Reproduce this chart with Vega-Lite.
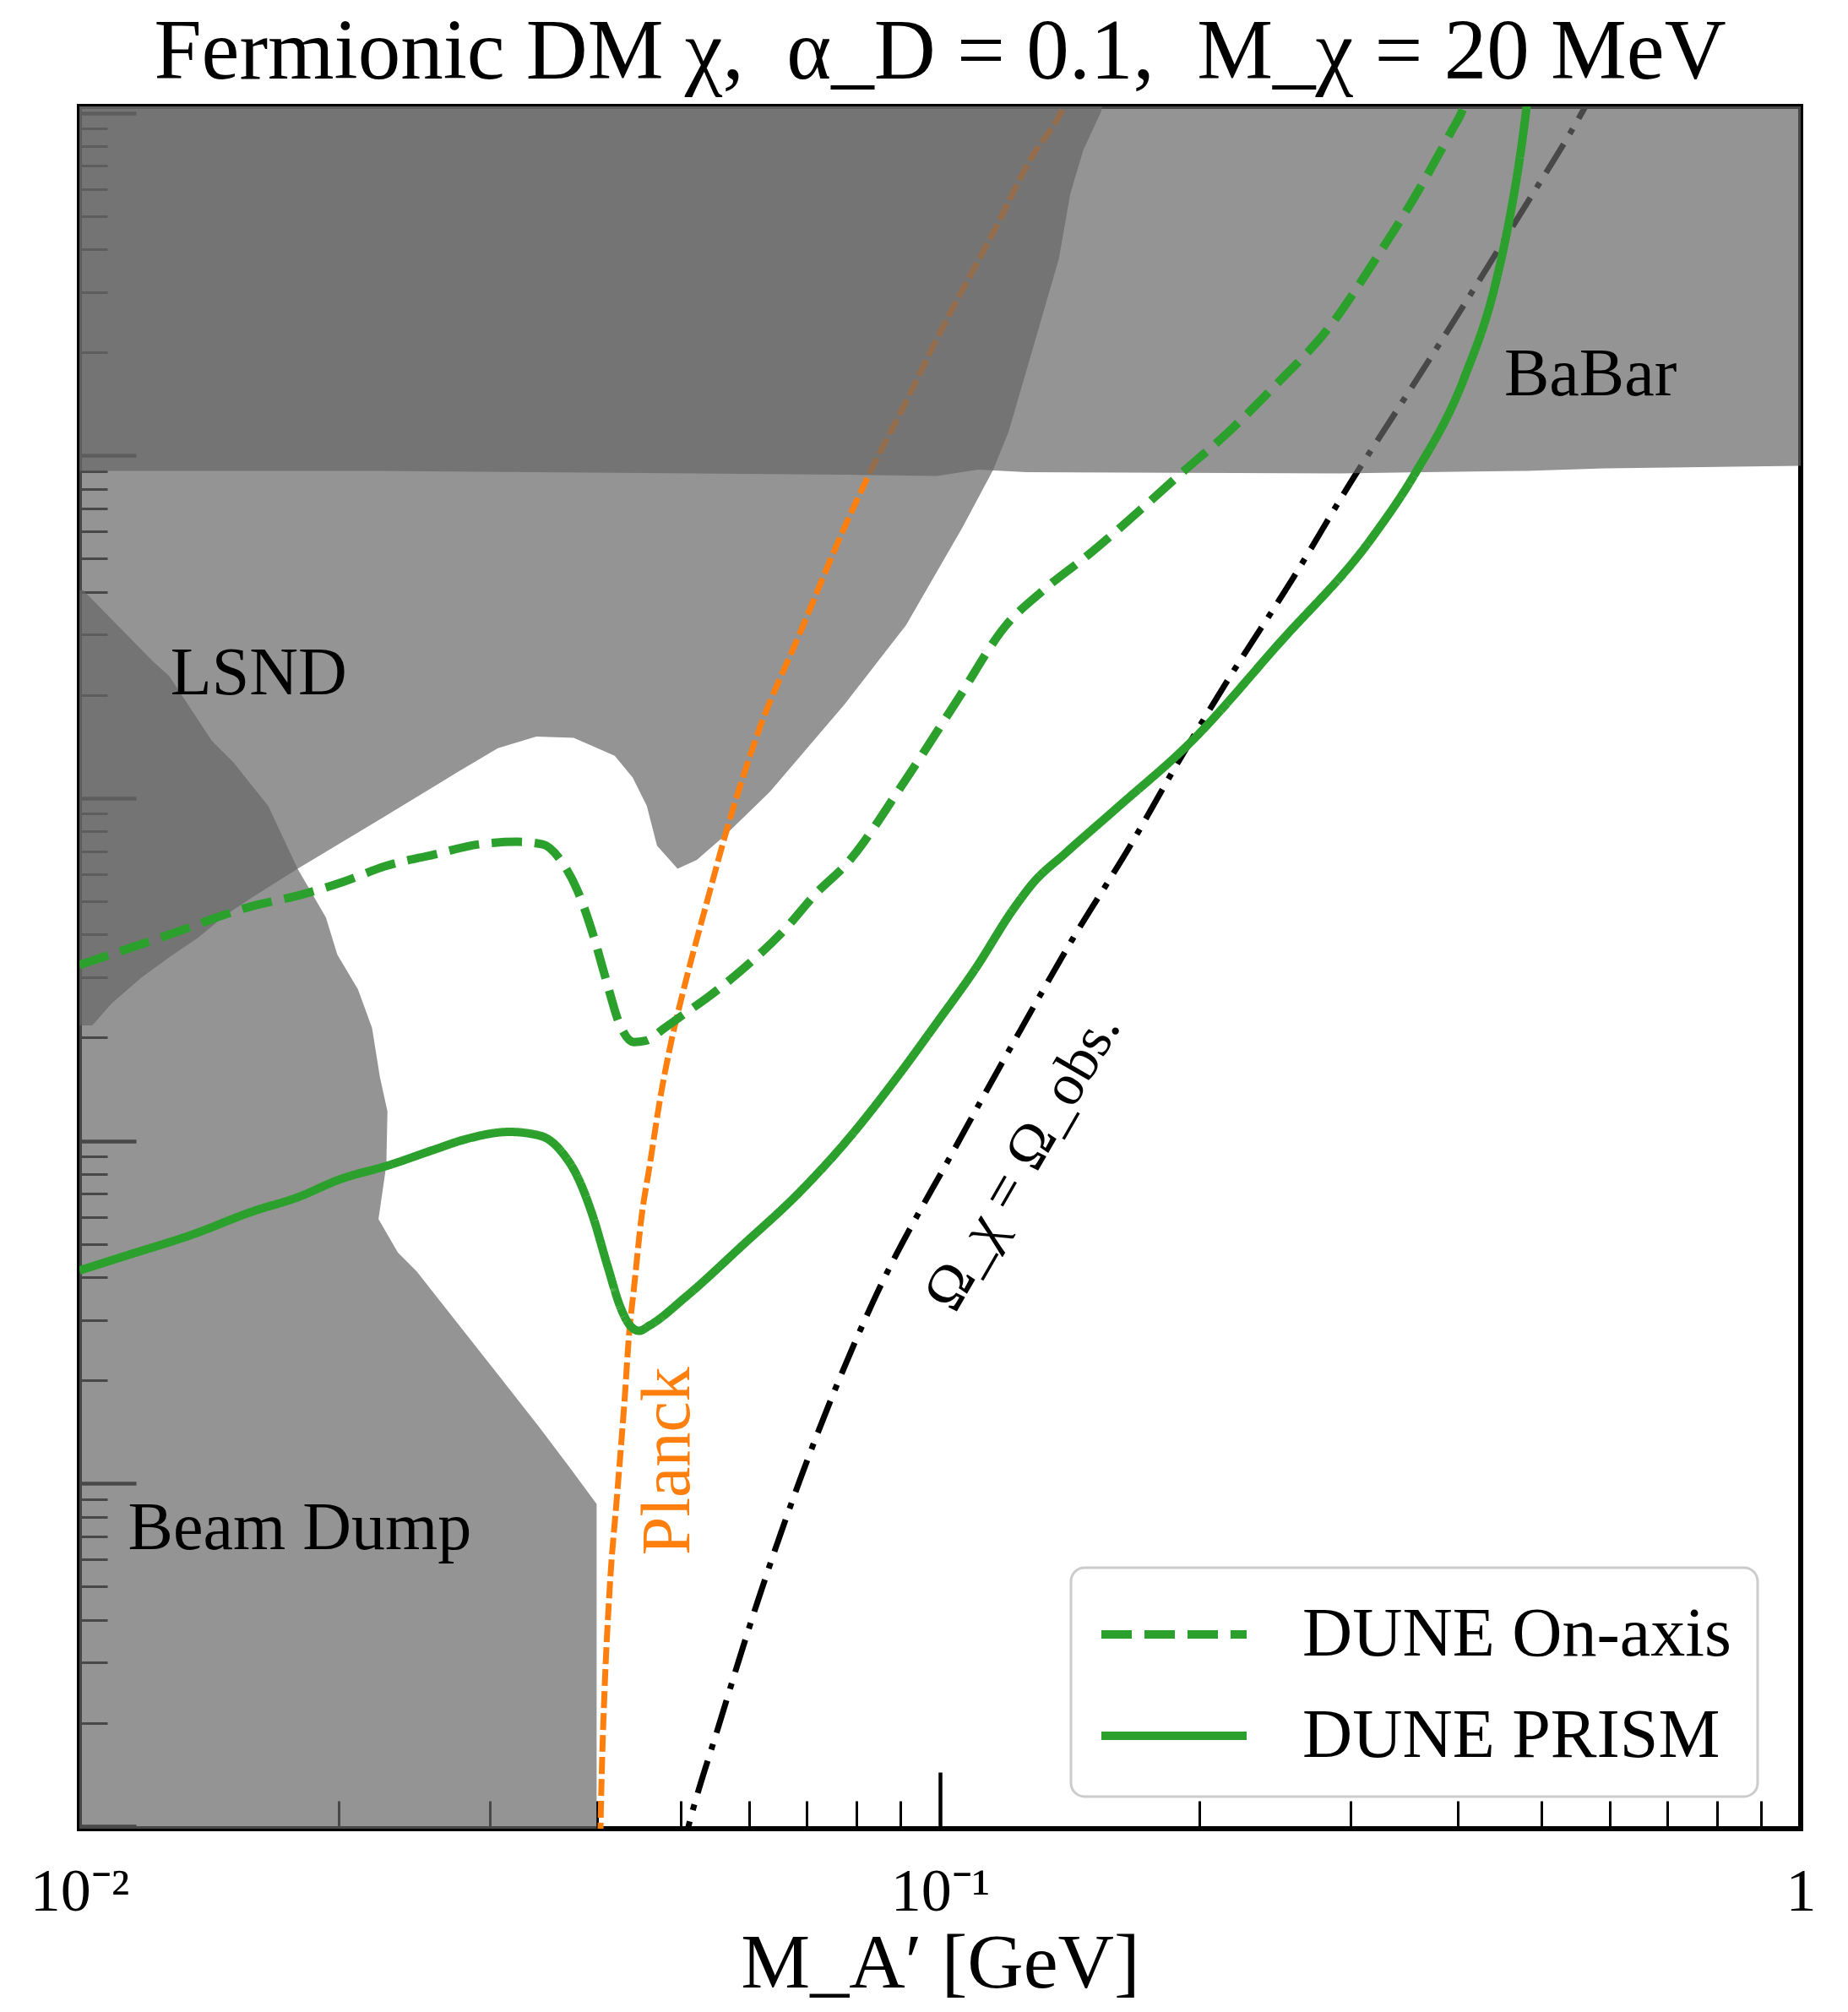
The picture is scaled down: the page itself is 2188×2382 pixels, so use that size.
{
  "$schema": "https://vega.github.io/schema/vega-lite/v6.json",
  "width": 2038,
  "height": 2039,
  "autosize": {"type": "none"},
  "padding": {"left": 94, "top": 126, "right": 56, "bottom": 217},
  "background": "white",
  "title": {
    "text": "Fermionic DM χ,\u00a0 α_D = 0.1,\u00a0 M_χ = 20 MeV",
    "fontSize": 101,
    "font": "Liberation Serif",
    "fontWeight": "normal",
    "baseline": "alphabetic",
    "offset": 33,
    "dy": 101,
    "anchor": "middle",
    "color": "black"
  },
  "config": {
    "font": "Liberation Serif",
    "view": {"stroke": "black", "strokeWidth": 6},
    "axis": {"grid": false, "domain": false, "tickColor": "black"},
    "legend": {"strokeWidth": 3}
  },
  "encoding": {
    "x": {
      "field": "x",
      "type": "quantitative",
      "scale": {"type": "log", "domain": [0.01, 1], "nice": false},
      "axis": {
        "values": [0.01, 0.02, 0.03, 0.04, 0.05, 0.06, 0.07, 0.08, 0.09, 0.1, 0.2, 0.3, 0.4, 0.5, 0.6, 0.7, 0.8, 0.9, 1],
        "tickSize": {"condition": {"test": "abs(log(datum.value)/LN10 - round(log(datum.value)/LN10)) < 0.001", "value": -67}, "value": -33},
        "tickWidth": {"condition": {"test": "abs(log(datum.value)/LN10 - round(log(datum.value)/LN10)) < 0.001", "value": 4.5}, "value": 3},
        "labelExpr": "abs(datum.value-0.01)<1e-6 ? '10⁻²' : abs(datum.value-0.1)<1e-6 ? '10⁻¹' : abs(datum.value-1)<1e-6 ? '1' : ''",
        "labelFontSize": 72,
        "labelColor": "black",
        "labelBaseline": "alphabetic",
        "labelPadding": 163,
        "labelFlush": false,
        "labelOverlap": false,
        "title": "M_A′ [GeV]",
        "titleFontSize": 92,
        "titleFontWeight": "normal",
        "titleColor": "black",
        "titleBaseline": "alphabetic",
        "titleY": 187
      }
    },
    "y": {
      "field": "y",
      "type": "quantitative",
      "scale": {"type": "log", "domain": [9.829e-15, 1.044e-9], "nice": false},
      "axis": {
        "values": [1e-14, 2e-14, 3e-14, 4e-14, 5e-14, 6e-14, 7e-14, 8e-14, 9e-14, 1e-13, 2e-13, 3e-13, 4e-13, 5e-13, 6e-13, 7e-13, 8e-13, 9e-13, 1e-12, 2e-12, 3e-12, 4e-12, 5e-12, 6e-12, 7e-12, 8e-12, 9e-12, 1e-11, 2e-11, 3e-11, 4e-11, 5e-11, 6e-11, 7e-11, 8e-11, 9e-11, 1e-10, 2e-10, 3e-10, 4e-10, 5e-10, 6e-10, 7e-10, 8e-10, 9e-10, 1e-9],
        "tickSize": {"condition": {"test": "abs(log(datum.value)/LN10 - round(log(datum.value)/LN10)) < 0.001", "value": -67}, "value": -33},
        "tickWidth": {"condition": {"test": "abs(log(datum.value)/LN10 - round(log(datum.value)/LN10)) < 0.001", "value": 4.5}, "value": 3},
        "labels": false,
        "title": null
      }
    }
  },
  "layer": [
    {
      "data": {"values": [
        {"i": 1, "x": 0.00927, "y": 4.043e-11},
        {"i": 2, "x": 0.0101, "y": 4.043e-11},
        {"i": 3, "x": 0.01216, "y": 2.516e-11},
        {"i": 4, "x": 0.01272, "y": 2.269e-11},
        {"i": 5, "x": 0.01424, "y": 1.474e-11},
        {"i": 6, "x": 0.0151, "y": 1.273e-11},
        {"i": 7, "x": 0.0159, "y": 1.081e-11},
        {"i": 8, "x": 0.01657, "y": 9.495e-12},
        {"i": 9, "x": 0.01793, "y": 6.223e-12},
        {"i": 10, "x": 0.01934, "y": 4.484e-12},
        {"i": 11, "x": 0.01994, "y": 3.491e-12},
        {"i": 12, "x": 0.02107, "y": 2.766e-12},
        {"i": 13, "x": 0.02188, "y": 2.136e-12},
        {"i": 14, "x": 0.02234, "y": 1.539e-12},
        {"i": 15, "x": 0.0228, "y": 1.219e-12},
        {"i": 16, "x": 0.02273, "y": 8.487e-13},
        {"i": 17, "x": 0.02226, "y": 5.909e-13},
        {"i": 18, "x": 0.02344, "y": 4.723e-13},
        {"i": 19, "x": 0.02467, "y": 4.149e-13},
        {"i": 20, "x": 0.03064, "y": 2.081e-13},
        {"i": 21, "x": 0.0342, "y": 1.462e-13},
        {"i": 22, "x": 0.03726, "y": 1.1e-13},
        {"i": 23, "x": 0.0399, "y": 8.711e-14},
        {"i": 24, "x": 0.0399, "y": 7.267e-15},
        {"i": 25, "x": 0.00927, "y": 7.267e-15}
      ]},
      "mark": {"type": "line", "filled": true, "fill": "#666666", "fillOpacity": 0.7, "strokeWidth": 0, "clip": true},
      "encoding": {"order": {"field": "i", "type": "quantitative"}}
    },
    {
      "data": {"values": [
        {"i": 1, "x": 0.00927, "y": 2.173e-12},
        {"i": 2, "x": 0.01, "y": 2.173e-12},
        {"i": 3, "x": 0.01035, "y": 2.173e-12},
        {"i": 4, "x": 0.0109, "y": 2.516e-12},
        {"i": 5, "x": 0.01179, "y": 2.989e-12},
        {"i": 6, "x": 0.01272, "y": 3.432e-12},
        {"i": 7, "x": 0.01372, "y": 3.906e-12},
        {"i": 8, "x": 0.01479, "y": 4.562e-12},
        {"i": 9, "x": 0.0159, "y": 5.147e-12},
        {"i": 10, "x": 0.01793, "y": 6.223e-12},
        {"i": 11, "x": 0.02241, "y": 8.711e-12},
        {"i": 12, "x": 0.02425, "y": 9.829e-12},
        {"i": 13, "x": 0.02746, "y": 1.188e-11},
        {"i": 14, "x": 0.03064, "y": 1.4e-11},
        {"i": 15, "x": 0.03396, "y": 1.513e-11},
        {"i": 16, "x": 0.03752, "y": 1.5e-11},
        {"i": 17, "x": 0.04188, "y": 1.329e-11},
        {"i": 18, "x": 0.04394, "y": 1.148e-11},
        {"i": 19, "x": 0.04563, "y": 9.495e-12},
        {"i": 20, "x": 0.0469, "y": 7.267e-12},
        {"i": 21, "x": 0.04955, "y": 6.223e-12},
        {"i": 22, "x": 0.05217, "y": 6.61e-12},
        {"i": 23, "x": 0.05626, "y": 7.788e-12},
        {"i": 24, "x": 0.06345, "y": 1.044e-11},
        {"i": 25, "x": 0.07744, "y": 1.877e-11},
        {"i": 26, "x": 0.09133, "y": 3.202e-11},
        {"i": 27, "x": 0.1062, "y": 6.171e-11},
        {"i": 28, "x": 0.1153, "y": 9.096e-11},
        {"i": 29, "x": 0.1202, "y": 1.178e-10},
        {"i": 30, "x": 0.1374, "y": 3.741e-10},
        {"i": 31, "x": 0.1417, "y": 5.807e-10},
        {"i": 32, "x": 0.1467, "y": 7.788e-10},
        {"i": 33, "x": 0.1539, "y": 1.009e-9},
        {"i": 34, "x": 0.1581, "y": 1.388e-9},
        {"i": 35, "x": 0.00927, "y": 1.388e-9}
      ]},
      "mark": {"type": "line", "filled": true, "fill": "#666666", "fillOpacity": 0.7, "strokeWidth": 0, "clip": true},
      "encoding": {"order": {"field": "i", "type": "quantitative"}}
    },
    {
      "data": {"values": [
        {"i": 1, "x": 0.1422, "y": 1.168e-9},
        {"i": 2, "x": 0.1384, "y": 1.009e-9},
        {"i": 3, "x": 0.1274, "y": 7.33e-10},
        {"i": 4, "x": 0.1153, "y": 4.483e-10},
        {"i": 5, "x": 0.09915, "y": 2.192e-10},
        {"i": 6, "x": 0.09133, "y": 1.437e-10},
        {"i": 7, "x": 0.08265, "y": 8.786e-11},
        {"i": 8, "x": 0.07744, "y": 6.171e-11},
        {"i": 9, "x": 0.06867, "y": 3.015e-11},
        {"i": 10, "x": 0.06152, "y": 1.566e-11},
        {"i": 11, "x": 0.05684, "y": 8.487e-12},
        {"i": 12, "x": 0.05344, "y": 4.846e-12},
        {"i": 13, "x": 0.05023, "y": 2.695e-12},
        {"i": 14, "x": 0.0487, "y": 1.942e-12},
        {"i": 15, "x": 0.04738, "y": 1.364e-12},
        {"i": 16, "x": 0.04594, "y": 8.342e-13},
        {"i": 17, "x": 0.045, "y": 6.012e-13},
        {"i": 18, "x": 0.04409, "y": 3.709e-13},
        {"i": 19, "x": 0.04349, "y": 2.673e-13},
        {"i": 20, "x": 0.04305, "y": 1.829e-13},
        {"i": 21, "x": 0.04217, "y": 9.415e-14},
        {"i": 22, "x": 0.0413, "y": 4.846e-14},
        {"i": 23, "x": 0.04074, "y": 2.43e-14},
        {"i": 24, "x": 0.04046, "y": 1.449e-14},
        {"i": 25, "x": 0.04032, "y": 9.829e-15},
        {"i": 26, "x": 0.04025, "y": 7e-15}
      ]},
      "mark": {"type": "line", "color": "#ff7f0e", "strokeWidth": 7, "strokeDash": [20, 6], "interpolate": "monotone", "clip": true},
      "encoding": {"order": {"field": "i", "type": "quantitative"}}
    },
    {
      "data": {"values": [
        {"i": 1, "x": 0.05007, "y": 8.27e-15},
        {"i": 2, "x": 0.05093, "y": 9.829e-15},
        {"i": 3, "x": 0.0553, "y": 1.959e-14},
        {"i": 4, "x": 0.06131, "y": 4.484e-14},
        {"i": 5, "x": 0.06867, "y": 1.017e-13},
        {"i": 6, "x": 0.08351, "y": 3.372e-13},
        {"i": 7, "x": 0.1044, "y": 9.66e-13},
        {"i": 8, "x": 0.1218, "y": 1.942e-12},
        {"i": 9, "x": 0.1422, "y": 3.839e-12},
        {"i": 10, "x": 0.166, "y": 7.205e-12},
        {"i": 11, "x": 0.1898, "y": 1.295e-11},
        {"i": 12, "x": 0.2169, "y": 2.25e-11},
        {"i": 13, "x": 0.2558, "y": 4.295e-11},
        {"i": 14, "x": 0.3038, "y": 8.786e-11},
        {"i": 15, "x": 0.3334, "y": 1.262e-10},
        {"i": 16, "x": 0.3998, "y": 2.582e-10},
        {"i": 17, "x": 0.4731, "y": 5.104e-10},
        {"i": 18, "x": 0.5579, "y": 1.009e-9},
        {"i": 19, "x": 0.5814, "y": 1.219e-9}
      ]},
      "mark": {"type": "line", "color": "black", "strokeWidth": 7, "strokeDash": [40, 14, 7, 14], "interpolate": "monotone", "clip": true},
      "encoding": {"order": {"field": "i", "type": "quantitative"}}
    },
    {
      "data": {"values": [
        {"i": 1, "x": 0.00927, "y": 9.018e-11},
        {"i": 2, "x": 0.01, "y": 9.018e-11},
        {"i": 3, "x": 0.02265, "y": 9.018e-11},
        {"i": 4, "x": 0.07798, "y": 8.786e-11},
        {"i": 5, "x": 0.09915, "y": 8.711e-11},
        {"i": 6, "x": 0.1107, "y": 9.096e-11},
        {"i": 7, "x": 0.1261, "y": 8.94e-11},
        {"i": 8, "x": 0.2915, "y": 8.864e-11},
        {"i": 9, "x": 0.3656, "y": 8.94e-11},
        {"i": 10, "x": 0.4796, "y": 9.018e-11},
        {"i": 11, "x": 0.5913, "y": 9.174e-11},
        {"i": 12, "x": 0.9965, "y": 9.333e-11},
        {"i": 13, "x": 1.06, "y": 9.333e-11},
        {"i": 14, "x": 1.06, "y": 1.388e-9},
        {"i": 15, "x": 0.00927, "y": 1.388e-9}
      ]},
      "mark": {"type": "line", "filled": true, "fill": "#666666", "fillOpacity": 0.7, "strokeWidth": 0, "clip": true},
      "encoding": {"order": {"field": "i", "type": "quantitative"}}
    },
    {
      "data": {"values": [
        {"label": "LSND", "x": 0.01276, "y": 2.011e-11},
        {"label": "BaBar", "x": 0.4524, "y": 1.5e-10},
        {"label": "Beam Dump", "x": 0.01139, "y": 6.442e-14}
      ]},
      "mark": {"type": "text", "align": "left", "baseline": "alphabetic", "fontSize": 80, "color": "black"},
      "encoding": {"text": {"field": "label"}}
    },
    {
      "data": {"values": [{"label": "Planck", "x": 0.0511, "y": 6.171e-14}]},
      "mark": {"type": "text", "align": "left", "baseline": "alphabetic", "angle": 270, "fontSize": 82, "color": "#ff7f0e"},
      "encoding": {"text": {"field": "label"}}
    },
    {
      "data": {"values": [{"label": "Ω_χ = Ω_obs.", "x": 0.1248, "y": 8.71e-13}]},
      "mark": {"type": "text", "align": "center", "baseline": "middle", "angle": 300, "fontSize": 70, "color": "black"},
      "encoding": {"text": {"field": "label"}}
    },
    {
      "data": {"values": [
        {"series": "DUNE On-axis", "i": 1, "x": 0.01, "y": 3.258e-12},
        {"series": "DUNE On-axis", "i": 2, "x": 0.01263, "y": 3.974e-12},
        {"series": "DUNE On-axis", "i": 3, "x": 0.0159, "y": 4.846e-12},
        {"series": "DUNE On-axis", "i": 4, "x": 0.01793, "y": 5.192e-12},
        {"series": "DUNE On-axis", "i": 5, "x": 0.02029, "y": 5.709e-12},
        {"series": "DUNE On-axis", "i": 6, "x": 0.02265, "y": 6.331e-12},
        {"series": "DUNE On-axis", "i": 7, "x": 0.0258, "y": 6.842e-12},
        {"series": "DUNE On-axis", "i": 8, "x": 0.0291, "y": 7.33e-12},
        {"series": "DUNE On-axis", "i": 9, "x": 0.03226, "y": 7.46e-12},
        {"series": "DUNE On-axis", "i": 10, "x": 0.03455, "y": 7.33e-12},
        {"series": "DUNE On-axis", "i": 11, "x": 0.03638, "y": 6.497e-12},
        {"series": "DUNE On-axis", "i": 12, "x": 0.03791, "y": 5.373e-12},
        {"series": "DUNE On-axis", "i": 13, "x": 0.03951, "y": 4.009e-12},
        {"series": "DUNE On-axis", "i": 14, "x": 0.04102, "y": 2.888e-12},
        {"series": "DUNE On-axis", "i": 15, "x": 0.04231, "y": 2.23e-12},
        {"series": "DUNE On-axis", "i": 16, "x": 0.04409, "y": 1.942e-12},
        {"series": "DUNE On-axis", "i": 17, "x": 0.04547, "y": 1.959e-12},
        {"series": "DUNE On-axis", "i": 18, "x": 0.04788, "y": 2.136e-12},
        {"series": "DUNE On-axis", "i": 19, "x": 0.05023, "y": 2.328e-12},
        {"series": "DUNE On-axis", "i": 20, "x": 0.05399, "y": 2.649e-12},
        {"series": "DUNE On-axis", "i": 21, "x": 0.05903, "y": 3.176e-12},
        {"series": "DUNE On-axis", "i": 22, "x": 0.06544, "y": 4.043e-12},
        {"series": "DUNE On-axis", "i": 23, "x": 0.0723, "y": 5.373e-12},
        {"series": "DUNE On-axis", "i": 24, "x": 0.07744, "y": 6.331e-12},
        {"series": "DUNE On-axis", "i": 25, "x": 0.09133, "y": 1.138e-11},
        {"series": "DUNE On-axis", "i": 26, "x": 0.1044, "y": 1.909e-11},
        {"series": "DUNE On-axis", "i": 27, "x": 0.1194, "y": 3.202e-11},
        {"series": "DUNE On-axis", "i": 28, "x": 0.1318, "y": 4.043e-11},
        {"series": "DUNE On-axis", "i": 29, "x": 0.1502, "y": 5.237e-11},
        {"series": "DUNE On-axis", "i": 30, "x": 0.1718, "y": 7.021e-11},
        {"series": "DUNE On-axis", "i": 31, "x": 0.1898, "y": 8.786e-11},
        {"series": "DUNE On-axis", "i": 32, "x": 0.2169, "y": 1.178e-10},
        {"series": "DUNE On-axis", "i": 33, "x": 0.2472, "y": 1.635e-10},
        {"series": "DUNE On-axis", "i": 34, "x": 0.2826, "y": 2.349e-10},
        {"series": "DUNE On-axis", "i": 35, "x": 0.3221, "y": 3.806e-10},
        {"series": "DUNE On-axis", "i": 36, "x": 0.3557, "y": 5.66e-10},
        {"series": "DUNE On-axis", "i": 37, "x": 0.393, "y": 8.86e-10},
        {"series": "DUNE On-axis", "i": 38, "x": 0.404, "y": 1.009e-9},
        {"series": "DUNE On-axis", "i": 39, "x": 0.4124, "y": 1.168e-9},
        {"series": "DUNE PRISM", "i": 1, "x": 0.01, "y": 4.184e-13},
        {"series": "DUNE PRISM", "i": 2, "x": 0.01139, "y": 4.642e-13},
        {"series": "DUNE PRISM", "i": 3, "x": 0.01353, "y": 5.327e-13},
        {"series": "DUNE PRISM", "i": 4, "x": 0.0159, "y": 6.223e-13},
        {"series": "DUNE PRISM", "i": 5, "x": 0.01793, "y": 6.842e-13},
        {"series": "DUNE PRISM", "i": 6, "x": 0.02008, "y": 7.72e-13},
        {"series": "DUNE PRISM", "i": 7, "x": 0.02288, "y": 8.487e-13},
        {"series": "DUNE PRISM", "i": 8, "x": 0.0258, "y": 9.414e-13},
        {"series": "DUNE PRISM", "i": 9, "x": 0.02803, "y": 1.009e-12},
        {"series": "DUNE PRISM", "i": 10, "x": 0.0316, "y": 1.062e-12},
        {"series": "DUNE PRISM", "i": 11, "x": 0.03431, "y": 1.035e-12},
        {"series": "DUNE PRISM", "i": 12, "x": 0.03638, "y": 9.253e-13},
        {"series": "DUNE PRISM", "i": 13, "x": 0.03791, "y": 7.855e-13},
        {"series": "DUNE PRISM", "i": 14, "x": 0.03951, "y": 6.012e-13},
        {"series": "DUNE PRISM", "i": 15, "x": 0.04102, "y": 4.369e-13},
        {"series": "DUNE PRISM", "i": 16, "x": 0.04261, "y": 3.23e-13},
        {"series": "DUNE PRISM", "i": 17, "x": 0.04364, "y": 2.888e-13},
        {"series": "DUNE PRISM", "i": 18, "x": 0.0447, "y": 2.79e-13},
        {"series": "DUNE PRISM", "i": 19, "x": 0.04594, "y": 2.888e-13},
        {"series": "DUNE PRISM", "i": 20, "x": 0.05075, "y": 3.52e-13},
        {"series": "DUNE PRISM", "i": 21, "x": 0.05903, "y": 4.97e-13},
        {"series": "DUNE PRISM", "i": 22, "x": 0.06867, "y": 7.081e-13},
        {"series": "DUNE PRISM", "i": 23, "x": 0.07744, "y": 9.829e-13},
        {"series": "DUNE PRISM", "i": 24, "x": 0.08945, "y": 1.552e-12},
        {"series": "DUNE PRISM", "i": 25, "x": 0.09915, "y": 2.211e-12},
        {"series": "DUNE PRISM", "i": 26, "x": 0.1099, "y": 3.176e-12},
        {"series": "DUNE PRISM", "i": 27, "x": 0.1218, "y": 4.764e-12},
        {"series": "DUNE PRISM", "i": 28, "x": 0.1283, "y": 5.66e-12},
        {"series": "DUNE PRISM", "i": 29, "x": 0.1398, "y": 6.902e-12},
        {"series": "DUNE PRISM", "i": 30, "x": 0.1603, "y": 9.333e-12},
        {"series": "DUNE PRISM", "i": 31, "x": 0.1958, "y": 1.462e-11},
        {"series": "DUNE PRISM", "i": 32, "x": 0.2472, "y": 2.813e-11},
        {"series": "DUNE PRISM", "i": 33, "x": 0.3177, "y": 5.759e-11},
        {"series": "DUNE PRISM", "i": 34, "x": 0.3557, "y": 8.786e-11},
        {"series": "DUNE PRISM", "i": 35, "x": 0.4068, "y": 1.692e-10},
        {"series": "DUNE PRISM", "i": 36, "x": 0.4416, "y": 3.148e-10},
        {"series": "DUNE PRISM", "i": 37, "x": 0.4602, "y": 5.104e-10},
        {"series": "DUNE PRISM", "i": 38, "x": 0.4731, "y": 7.788e-10},
        {"series": "DUNE PRISM", "i": 39, "x": 0.4796, "y": 1.009e-9},
        {"series": "DUNE PRISM", "i": 40, "x": 0.4829, "y": 1.168e-9}
      ]},
      "mark": {"type": "line", "color": "#2ca02c", "strokeWidth": 10, "interpolate": "monotone", "clip": true},
      "encoding": {
        "order": {"field": "i", "type": "quantitative"},
        "strokeDash": {
          "field": "series",
          "type": "nominal",
          "scale": {"domain": ["DUNE On-axis", "DUNE PRISM"], "range": [[36, 15], [1, 0]]},
          "legend": {
            "orient": "none",
            "legendX": 1174,
            "legendY": 1730,
            "title": null,
            "symbolType": "M-2,0H2",
            "symbolSize": 7396,
            "symbolOffset": 43,
            "symbolStrokeWidth": 10,
            "symbolStrokeColor": "#2ca02c",
            "symbolFillColor": "transparent",
            "labelFontSize": 82,
            "labelFont": "Liberation Serif",
            "labelColor": "black",
            "labelOffset": 104,
            "labelLimit": 0,
            "rowPadding": 31,
            "padding": 31,
            "fillColor": "white",
            "strokeColor": "#cccccc",
            "cornerRadius": 16
          }
        }
      }
    }
  ]
}
